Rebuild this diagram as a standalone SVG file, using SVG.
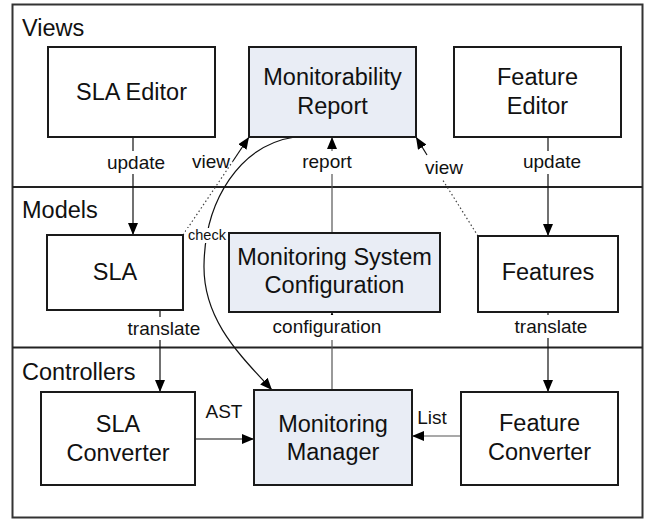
<svg xmlns="http://www.w3.org/2000/svg" width="650" height="520" viewBox="0 0 650 520">
<defs>
<marker id="arr" viewBox="0 0 12 10" refX="12" refY="5" markerWidth="12" markerHeight="10" markerUnits="userSpaceOnUse" orient="auto">
<path d="M0,0 L12,5 L0,10 Z" fill="#000"/>
</marker>
<style>
.frame{fill:#fff;stroke:#333;stroke-width:2}
.div{stroke:#222;stroke-width:2}
.box{fill:#fff;stroke:#1a1a1a;stroke-width:2}
.hl{fill:#e9edf5;stroke:#1a1a1a;stroke-width:2}
.sec{font-family:"Liberation Sans",Arial,sans-serif;font-size:23.5px;fill:#111}
.t{font-family:"Liberation Sans",Arial,sans-serif;font-size:23.5px;fill:#111;text-anchor:middle}
.lbl{font-family:"Liberation Sans",Arial,sans-serif;font-size:19px;fill:#111;text-anchor:middle}
.small{font-family:"Liberation Sans",Arial,sans-serif;font-size:14.5px;fill:#111;text-anchor:middle}
.ln{fill:none;stroke:#111;stroke-width:1.2}
.gl{fill:none;stroke:#555;stroke-width:1.2}
.dot{fill:none;stroke:#444;stroke-width:1.2;stroke-dasharray:1.5,2.5}
.bg{fill:#fff}
</style>
</defs>
<g id="frame">
<rect class="frame" x="12.5" y="4.5" width="630" height="513"/>
<line class="div" x1="12.5" y1="187" x2="642.5" y2="187"/>
<line class="div" x1="12.5" y1="347.5" x2="642.5" y2="347.5"/>
<text class="sec" x="22" y="36">Views</text>
<text class="sec" x="22" y="218">Models</text>
<text class="sec" x="22" y="380">Controllers</text>
</g>
<g id="connectors">
<line class="ln" x1="133" y1="137" x2="133" y2="235" marker-end="url(#arr)"/>
<line class="ln" x1="548" y1="137" x2="548" y2="236" marker-end="url(#arr)"/>
<line class="ln" x1="160" y1="310" x2="160" y2="392" marker-end="url(#arr)"/>
<line class="ln" x1="548" y1="312" x2="548" y2="392" marker-end="url(#arr)"/>
<line class="gl" x1="332" y1="390" x2="332" y2="312" marker-end="url(#arr)"/>
<line class="gl" x1="332" y1="233" x2="332" y2="137" marker-end="url(#arr)"/>
<line class="ln" x1="195" y1="439" x2="254" y2="439" marker-end="url(#arr)"/>
<line class="gl" x1="461" y1="436" x2="412" y2="436" marker-end="url(#arr)"/>
<line class="dot" x1="183" y1="235" x2="233" y2="161"/>
<line class="ln" x1="233" y1="161" x2="249" y2="137" marker-end="url(#arr)"/>
<line class="dot" x1="478" y1="236" x2="427" y2="155"/>
<line class="ln" x1="427" y1="155" x2="416" y2="137" marker-end="url(#arr)"/>
<path class="ln" d="M295,137 C240,145 205,200 204,265 C203,320 240,355 272,390" stroke="#333" marker-end="url(#arr)"/>
<rect class="bg" x="103" y="151" width="66" height="23"/>
<text class="lbl" x="136" y="169">update</text>
<rect class="bg" x="519" y="151" width="66" height="23"/>
<text class="lbl" x="552" y="168">update</text>
<rect class="bg" x="298" y="151" width="58" height="23"/>
<text class="lbl" x="327" y="168">report</text>
<text class="lbl" x="211" y="168">view</text>
<rect class="bg" x="423" y="156" width="43" height="23"/>
<text class="lbl" x="444" y="174">view</text>
<rect class="bg" x="123" y="317" width="83" height="23"/>
<text class="lbl" x="164" y="335">translate</text>
<rect class="bg" x="511" y="315" width="81" height="23"/>
<text class="lbl" x="551" y="333">translate</text>
<rect class="bg" x="268" y="315" width="118" height="25"/>
<text class="lbl" x="327" y="333">configuration</text>
<text class="lbl" x="224" y="418">AST</text>
<text class="lbl" x="432" y="424">List</text>
<rect class="bg" x="186" y="228" width="42" height="15"/>
<text class="small" x="207" y="240">check</text>
</g>
<g id="sla-editor">
<rect class="box" x="48" y="47" width="167" height="90"/>
<text class="t" x="131.5" y="100">SLA Editor</text>
</g>
<g id="monitorability-report">
<rect class="hl" x="249" y="47" width="167" height="90"/>
<text class="t" x="332.5" y="85">Monitorability</text>
<text class="t" x="332.5" y="114">Report</text>
</g>
<g id="feature-editor">
<rect class="box" x="454" y="47" width="167" height="90"/>
<text class="t" x="537.5" y="85">Feature</text>
<text class="t" x="537.5" y="114">Editor</text>
</g>
<g id="sla">
<rect class="box" x="47" y="235" width="136" height="75"/>
<text class="t" x="115" y="280">SLA</text>
</g>
<g id="monitoring-system-configuration">
<rect class="hl" x="229" y="233" width="211" height="79"/>
<text class="t" x="334.5" y="265">Monitoring System</text>
<text class="t" x="334.5" y="293">Configuration</text>
</g>
<g id="features">
<rect class="box" x="478" y="236" width="140" height="76"/>
<text class="t" x="548" y="280">Features</text>
</g>
<g id="sla-converter">
<rect class="box" x="41" y="392" width="154" height="93"/>
<text class="t" x="118" y="432">SLA</text>
<text class="t" x="118" y="461">Converter</text>
</g>
<g id="monitoring-manager">
<rect class="hl" x="254" y="390" width="158" height="95"/>
<text class="t" x="333" y="432">Monitoring</text>
<text class="t" x="333" y="460">Manager</text>
</g>
<g id="feature-converter">
<rect class="box" x="461" y="392" width="157" height="93"/>
<text class="t" x="539.5" y="431">Feature</text>
<text class="t" x="539.5" y="460">Converter</text>
</g>
</svg>
